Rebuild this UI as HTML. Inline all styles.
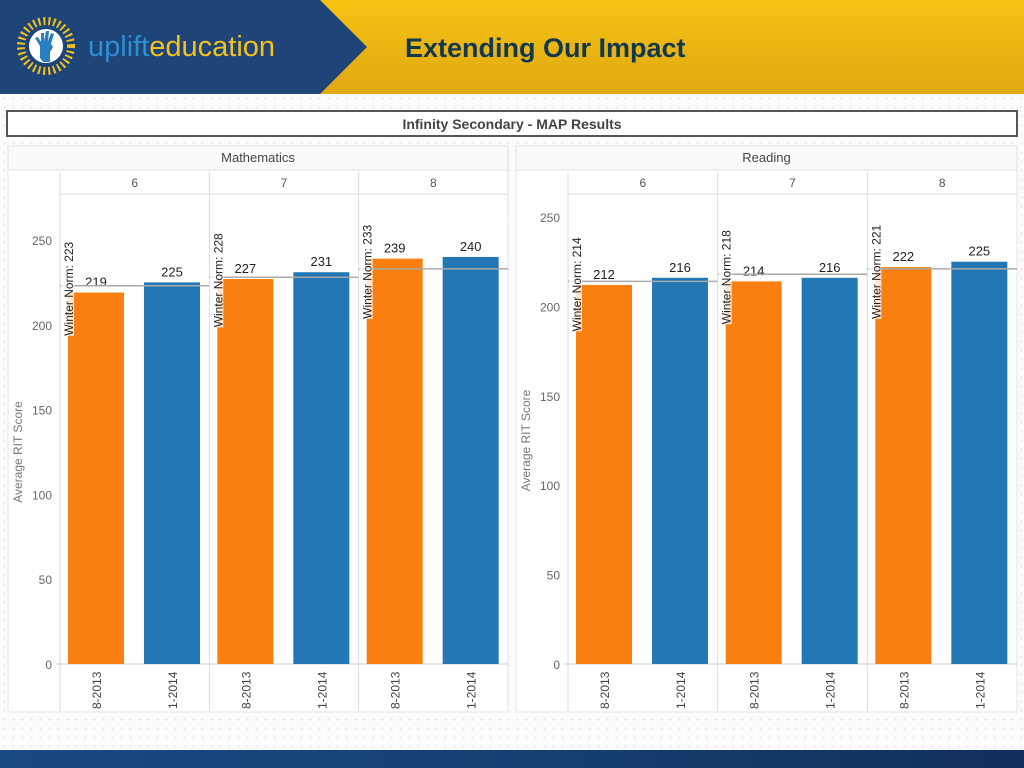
<!DOCTYPE html>
<html><head><meta charset="utf-8"><style>
body{margin:0;width:1024px;height:768px;overflow:hidden;background:#fff;font-family:"Liberation Sans",sans-serif;position:relative}
.dots{position:absolute;left:0;top:94px;width:1024px;height:656px;background-color:#fcfcfd;background-image:radial-gradient(#e3e4ea 0.8px,transparent 1.2px);background-size:9px 9px}
</style></head><body>
<div class="dots"></div>
<svg width="1024" height="768" style="position:absolute;left:0;top:0" id="svg">
<defs><linearGradient id="gy" x1="0" x2="0" y1="0" y2="1"><stop offset="0" stop-color="#f6c314"/><stop offset="1" stop-color="#dfa811"/></linearGradient>
<linearGradient id="gb" x1="0" x2="1"><stop offset="0" stop-color="#1a4a82"/><stop offset="0.6" stop-color="#153c6e"/><stop offset="1" stop-color="#113058"/></linearGradient></defs>
<rect x="0" y="0" width="1024" height="94" fill="url(#gy)"/>
<polygon points="0,0 320,0 367,47 320,94 0,94" fill="#1f4478"/>
<g>
<circle cx="46" cy="46" r="25" fill="none" stroke="#f2c21b" stroke-width="8" stroke-dasharray="2 3"/>
<circle cx="46" cy="46" r="17" fill="#fff"/>
<path d="M40,58 L40,46 L35,38 L38,37 L41,42 L41,33 L44,33 L44,41 L46,31 L49,31 L48,41 L51,33 L54,34 L51,44 L53,47 L50,52 L50,62 L43,62 Z" fill="#2a7fc0"/>
</g>
<text x="88" y="56" font-size="29" fill="#2c8fd0">uplift<tspan fill="#f2c21b">education</tspan></text>
<text x="405" y="57" font-size="27" font-weight="bold" fill="#123850">Extending Our Impact</text>
<rect x="7" y="111" width="1010" height="25" fill="#fff" stroke="#555" stroke-width="2"/>
<text x="512" y="129" font-size="14" font-weight="bold" fill="#444" text-anchor="middle">Infinity Secondary - MAP Results</text>
<g id="charts"></g>
<rect x="0" y="750" width="1024" height="18" fill="url(#gb)"/>
</svg>
<script>
const subjects=["Mathematics","Reading"];
const grades=["6","7","8"];
const periods=["8-2013","1-2014"];
const mathFall=[219,227,239];
const mathWinter=[225,231,240];
const mathNorm=[223,228,233];
const readFall=[212,214,222];
const readWinter=[216,216,225];
const readNorm=[214,218,221];
const mathTicks=[0,50,100,150,200,250];
const readTicks=[0,50,100,150,200,250];
const NS="http://www.w3.org/2000/svg";
const root=document.getElementById('charts');
function el(t,a,p){const e=document.createElementNS(NS,t);for(const k in a)e.setAttribute(k,a[k]);(p||root).appendChild(e);return e;}
function txt(s,a,p){const e=el('text',a,p);e.textContent=s;return e;}
const panels=[
 {x0:8,x1:508,plotL:60,y0:664,y250:240,fall:mathFall,win:mathWinter,norm:mathNorm,ticks:mathTicks,name:subjects[0]},
 {x0:516,x1:1017,plotL:568,y0:664,y250:217,fall:readFall,win:readWinter,norm:readNorm,ticks:readTicks,name:subjects[1]}];
panels.forEach((P,pi)=>{
 const g=el('g',{});
 
 
 const y=v=>P.y0-(v/250)*(P.y0-P.y250);
 el('rect',{x:P.x0,y:146,width:P.x1-P.x0,height:566,fill:'#fff',stroke:'#e6e6e6'},g);
 el('rect',{x:P.x0,y:146,width:P.x1-P.x0,height:24,fill:'#fafafa',stroke:'#e2e2e2'},g);
 const h=txt(P.name,{x:(P.x0+P.x1)/2,y:162,'font-size':13,fill:'#444','text-anchor':'middle'},g);
 
 
 const cw=(P.x1-P.plotL)/3;
 el('line',{x1:P.plotL,y1:194,x2:P.x1,y2:194,stroke:'#ddd'},g);
 el('line',{x1:P.plotL,y1:172,x2:P.plotL,y2:712,stroke:'#d8d8d8'},g);
 el('line',{x1:P.plotL-4,y1:P.y0,x2:P.x1,y2:P.y0,stroke:'#ccc'},g);
 P.ticks.forEach(t=>{
  const tl=txt(t,{x:P.plotL-8,y:y(t)+5,'font-size':12,fill:'#666','text-anchor':'end'},g);
  
  
 });
 const yt=txt('Average RIT Score',{transform:`translate(${P.x0+14},${(y(0)+y(250))/2}) rotate(-90)`,'font-size':12,fill:'#777','text-anchor':'middle'},g);
 
 
 grades.forEach((gr,i)=>{
  const cx=P.plotL+i*cw;
  if(i>0)el('line',{x1:cx,y1:172,x2:cx,y2:712,stroke:'#ddd'},g);
  const gl=txt(gr,{x:cx+cw/2,y:187,'font-size':12,fill:'#555','text-anchor':'middle'},g);
  
  
  const vals=[P.fall[i],P.win[i]];const cols=['#f97f10','#2277b4'];
  vals.forEach((v,j)=>{
   const bx=cx+8+j*76,bw=56;
   const b=el('rect',{x:bx,y:y(v),width:bw,height:y(0)-y(v),fill:cols[j]},g);
   
   
   const vl=txt(v,{x:bx+bw/2,y:y(v)-6,'font-size':13,fill:'#222','text-anchor':'middle'},g);
   
   
   const xl=txt(periods[j],{transform:`translate(${bx+bw/2+5},${709}) rotate(-90)`,'font-size':12,fill:'#444'},g);
   
   
  });
  const nl=el('line',{x1:cx,y1:y(P.norm[i]),x2:cx+cw,y2:y(P.norm[i]),stroke:'#aaa','stroke-width':1.5},g);
  
  
  const ny=y(P.norm[i])+50;
  el('rect',{x:cx+1,y:ny-106,width:13,height:106,fill:'#fff','fill-opacity':0.8},g);
  const nt=txt('Winter Norm: '+P.norm[i],{transform:`translate(${cx+13},${ny}) rotate(-90)`,'font-size':12,fill:'#222'},g);
  
  
 });
});
</script>
</body></html>
